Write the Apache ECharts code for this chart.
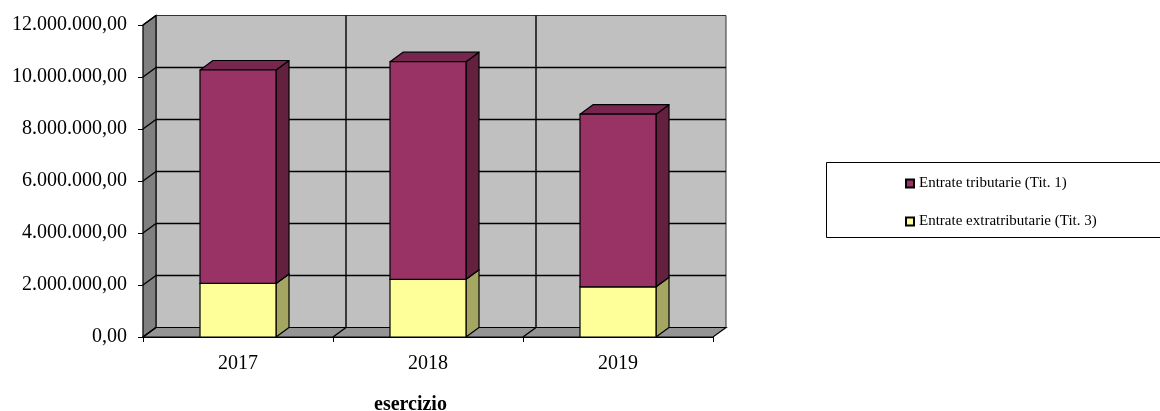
<!DOCTYPE html>
<html>
<head>
<meta charset="utf-8">
<script src="https://cdn.jsdelivr.net/npm/echarts@6/dist/echarts.min.js"></script>
<style>
html,body{margin:0;padding:0;background:#fff;}
#chart{width:1160px;height:411px;}
</style>
</head>
<body>
<div id="chart"></div>
<script>
// ---- data ----
const categories = ['2017', '2018', '2019'];
const entrateTributarie = [8210000, 8370000, 6640000];
const entrateExtratributarie = [2060000, 2220000, 1930000];
const yTicks = [0, 2000000, 4000000, 6000000, 8000000, 10000000, 12000000];
const seriesNames = ['Entrate tributarie (Tit. 1)', 'Entrate extratributarie (Tit. 3)'];
const xAxisName = 'esercizio';

// ---- styling ----
const DX = 13, DY = -9.5;
const FONT = 'Liberation Serif';

function fmtIt(v) {
  const s = Math.round(v).toString();
  const parts = [];
  for (let i = s.length; i > 0; i -= 3) parts.unshift(s.substring(Math.max(0, i - 3), i));
  return parts.join('.') + ',00';
}

function renderWalls(params, api) {
  const band = api.size([1, 0])[0];
  const c0 = api.coord([0, 0]);
  const x0 = c0[0] - band / 2;
  const xN = x0 + band * categories.length;
  const y0 = c0[1];
  const yTop = api.coord([0, yTicks[yTicks.length - 1]])[1];
  const line = { stroke: '#000', lineWidth: 1.4 };
  const ch = [];
  // back wall
  ch.push({ type: 'polygon', shape: { points: [[x0 + DX, yTop + DY], [xN + DX, yTop + DY], [xN + DX, y0 + DY], [x0 + DX, y0 + DY]] },
    style: { fill: '#c0c0c0', stroke: '#333', lineWidth: 1 } });
  // left wall
  ch.push({ type: 'polygon', shape: { points: [[x0, yTop], [x0 + DX, yTop + DY], [x0 + DX, y0 + DY], [x0, y0]] },
    style: { fill: '#808080', stroke: '#000', lineWidth: 1.2 } });
  // floor
  ch.push({ type: 'polygon', shape: { points: [[x0, y0], [x0 + DX, y0 + DY], [xN + DX, y0 + DY], [xN, y0]] },
    style: { fill: '#949494', stroke: '#000', lineWidth: 1.2 } });
  // gridlines
  yTicks.forEach(function (t, k) {
    const y = api.coord([0, t])[1];
    if (k > 0 && k < yTicks.length - 1) {
      ch.push({ type: 'line', shape: { x1: x0 + DX, y1: y + DY, x2: xN + DX, y2: y + DY }, style: line });
    }
    ch.push({ type: 'line', shape: { x1: x0, y1: y, x2: x0 + DX, y2: y + DY }, style: line });
  });
  for (let b = 1; b < categories.length; b++) {
    const xb = x0 + band * b;
    ch.push({ type: 'line', shape: { x1: xb + DX, y1: yTop + DY, x2: xb + DX, y2: y0 + DY }, style: line });
    ch.push({ type: 'line', shape: { x1: xb, y1: y0, x2: xb + DX, y2: y0 + DY }, style: line });
  }
  return { type: 'group', children: ch };
}

function makeBarRenderer(front, side, top) {
  return function (params, api) {
    const i = api.value(0), lo = api.value(1), hi = api.value(2);
    const band = api.size([1, 0])[0];
    const pLo = api.coord([i, lo]);
    const pHi = api.coord([i, hi]);
    const w = band * 0.4;
    const xl = pLo[0] - w / 2, xr = pLo[0] + w / 2;
    const s = { stroke: '#000', lineWidth: 1.2, lineJoin: 'round' };
    return {
      type: 'group',
      children: [
        { type: 'polygon', shape: { points: [[xr, pLo[1]], [xr + DX, pLo[1] + DY], [xr + DX, pHi[1] + DY], [xr, pHi[1]]] },
          style: Object.assign({ fill: side }, s) },
        { type: 'polygon', shape: { points: [[xl, pHi[1]], [xl + DX, pHi[1] + DY], [xr + DX, pHi[1] + DY], [xr, pHi[1]]] },
          style: Object.assign({ fill: top }, s) },
        { type: 'rect', shape: { x: xl, y: pHi[1], width: w, height: pLo[1] - pHi[1] },
          style: Object.assign({ fill: front }, s) }
      ]
    };
  };
}

const chart = echarts.init(document.getElementById('chart'), null, { renderer: 'canvas' });
chart.setOption({
  animation: false,
  backgroundColor: '#fff',
  textStyle: { fontFamily: FONT },
  grid: { left: 143, top: 25, width: 570, height: 312, containLabel: false },
  title: {
    text: xAxisName, left: 369, top: 390,
    textStyle: { fontFamily: FONT, fontSize: 20, fontWeight: 'bold', color: '#000' }
  },
  legend: {
    data: seriesNames,
    orient: 'vertical', left: 900, top: 171,
    itemWidth: 8, itemHeight: 8, itemGap: 23,
    icon: 'rect',
    textStyle: { fontFamily: FONT, fontSize: 15, lineHeight: 15, color: '#000' }
  },
  graphic: [{
    type: 'rect', z: -1,
    shape: { x: 826.5, y: 162.5, width: 400, height: 75 },
    style: { fill: 'none', stroke: '#000', lineWidth: 1 }
  }],
  xAxis: {
    type: 'category', data: categories, boundaryGap: true,
    axisLine: { show: true, lineStyle: { color: '#000', width: 1.2 } },
    axisTick: { show: true, length: 5, alignWithLabel: false, lineStyle: { color: '#000' } },
    axisLabel: { margin: 17, fontFamily: FONT, fontSize: 20, color: '#000' },
    splitLine: { show: false }
  },
  yAxis: {
    type: 'value', min: 0, max: 12000000, interval: 2000000,
    axisLine: { show: true, lineStyle: { color: '#000', width: 1.2 } },
    axisTick: { show: true, length: 5, lineStyle: { color: '#000' } },
    axisLabel: { margin: 16, fontFamily: FONT, fontSize: 20, color: '#000',
      formatter: function (v) { return fmtIt(v); } },
    splitLine: { show: false }
  },
  series: [
    {
      type: 'custom', name: 'walls', z: 1, silent: true,
      renderItem: renderWalls, data: [[0, 0]], encode: { x: 0, y: 1 }
    },
    {
      type: 'custom', name: seriesNames[1], z: 2,
      itemStyle: { color: '#ffff99', borderColor: '#000', borderWidth: 1 },
      renderItem: makeBarRenderer('#ffff99', '#a6a663', '#cccc7a'),
      encode: { x: 0, y: [1, 2] },
      data: categories.map(function (c, i) { return [i, 0, entrateExtratributarie[i]]; })
    },
    {
      type: 'custom', name: seriesNames[0], z: 3,
      itemStyle: { color: '#993366', borderColor: '#000', borderWidth: 1 },
      renderItem: makeBarRenderer('#993366', '#63203f', '#77264f'),
      encode: { x: 0, y: [1, 2] },
      data: categories.map(function (c, i) {
        return [i, entrateExtratributarie[i], entrateExtratributarie[i] + entrateTributarie[i]];
      })
    }
  ]
});
</script>
</body>
</html>
